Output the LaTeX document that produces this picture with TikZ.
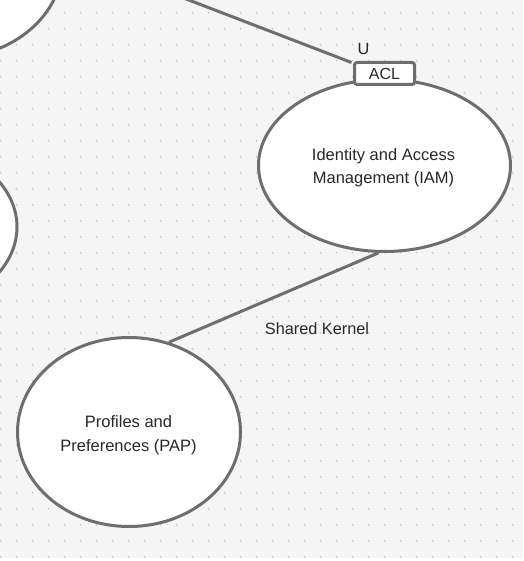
\documentclass[tikz,border=0pt]{standalone}
\usepackage{fontspec}
\setmainfont{Liberation Sans}
\usetikzlibrary{shapes.geometric}
\definecolor{bgc}{RGB}{245,245,245}
\definecolor{dotc}{RGB}{196,196,196}
\definecolor{edgec}{RGB}{110,110,110}
\definecolor{txtc}{RGB}{40,40,40}
\tikzset{
  ctx/.style={ellipse, draw=edgec, fill=white, line width=3pt, inner sep=0pt},
  ctxtext/.style={text=txtc, align=center, inner sep=0pt, font=\fontsize{16.5}{23.5}\selectfont},
  aclbox/.style={rectangle, rounded corners=2.5pt, draw=edgec, fill=white, line width=3pt,
    inner sep=0pt, minimum width=60pt, minimum height=22pt, text=txtc,
    font=\fontsize{16}{19}\selectfont},
  conn/.style={draw=edgec, line width=3pt},
  lbl/.style={text=txtc, inner sep=0pt, font=\fontsize{16.3}{19}\selectfont}
}
\begin{document}
\begin{tikzpicture}[x=1pt,y=-1pt]
\useasboundingbox (0,0) rectangle (523,561);
\clip (0,0) rectangle (523,561);
\fill[white] (0,0) rectangle (523,561);
\fill[bgc] (0,0) rectangle (523,558);
\foreach \i in {0,...,32}{
  \foreach \j in {0,...,34}{
    \fill[dotc] (16*\i+0.5,16*\j+12.7) circle (0.95pt);
  }
}
% partial contexts at the left edge
\node[ctx, minimum width=226pt, minimum height=192pt] (tl) at (-50,-38) {};
\node[ctx, minimum width=226pt, minimum height=168pt] (lf) at (-96,227) {};
% main contexts
\node[ctx, minimum width=252pt, minimum height=172pt] (iam) at (384.5,165.5) {};
\node[ctxtext] (iamtxt) at (383.5,167.5) {Identity and Access\\Management (IAM)};
\node[ctx, minimum width=223pt, minimum height=189pt] (pap) at (129,432) {};
\node[ctxtext] (paptxt) at (128.5,435) {Profiles and\\Preferences (PAP)};
% anticorruption layer
\node[aclbox] (acl) at (384.5,73.5) {ACL};
\node[lbl] (u) at (363.5,49) {U};
% connectors
\coordinate (tlend) at (20,-64.8);
\draw[conn] (tlend) -- ([xshift=-1.5pt,yshift=-1.5pt]acl.north west);
\draw[conn] (iam.-94) -- (pap.66);
\node[lbl] (sk) at (317,329) {Shared Kernel};
\end{tikzpicture}
\end{document}
